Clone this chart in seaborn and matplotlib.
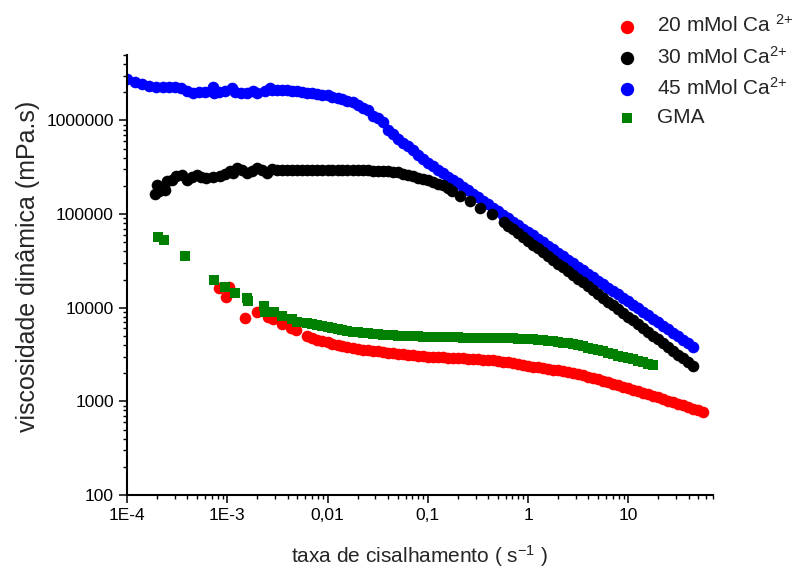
import matplotlib
matplotlib.use("Agg")
import numpy as np
import pandas as pd
import matplotlib.pyplot as plt
import seaborn as sns
from matplotlib.ticker import FixedLocator, FixedFormatter, LogLocator, NullFormatter

# ---------------- data ----------------
rate_grid = [
    0.00316, 0.00355, 0.00398, 0.00447, 0.00501, 0.00562, 0.00631, 0.00708, 0.00794, 0.00891,
    0.0100, 0.0112, 0.0126, 0.0141, 0.0158, 0.0178, 0.0200, 0.0224, 0.0251, 0.0282,
    0.0316, 0.0355, 0.0398, 0.0447, 0.0501, 0.0562, 0.0631, 0.0708, 0.0794, 0.0891,
    0.100, 0.112, 0.126, 0.141, 0.158, 0.178, 0.200, 0.224, 0.251, 0.282,
    0.316, 0.355, 0.398, 0.447, 0.501, 0.562, 0.631, 0.708, 0.794, 0.891,
    1.00, 1.12, 1.26, 1.41, 1.58, 1.78, 2.00, 2.24, 2.51, 2.82,
    3.16, 3.55, 3.98, 4.47, 5.01, 5.62, 6.31, 7.08, 7.94, 8.91,
    10.0, 11.2, 12.6, 14.1, 15.8, 17.8, 20.0, 22.4, 25.1, 28.2,
    31.6, 35.5, 39.8, 44.7, 50.1, 56.2,
]

# 45 mMol Ca2+ (blue)
ca45_rate_early = [1.00e-4, 1.20e-4, 1.41e-4, 1.66e-4, 1.95e-4, 2.29e-4, 2.63e-4, 3.02e-4, 3.47e-4,
                   3.98e-4, 4.57e-4, 5.25e-4, 6.03e-4, 6.92e-4, 7.24e-4, 7.41e-4, 8.32e-4, 9.55e-4,
                   1.12e-3, 1.20e-3, 1.38e-3, 1.58e-3, 1.82e-3, 2.00e-3, 2.40e-3, 2.69e-3, 2.82e-3]
ca45_visc_early = [2.75e6, 2.55e6, 2.45e6, 2.35e6, 2.30e6, 2.28e6, 2.30e6, 2.25e6, 2.22e6,
                   2.05e6, 1.98e6, 2.00e6, 2.03e6, 2.08e6, 2.25e6, 1.95e6, 2.00e6, 2.05e6,
                   2.20e6, 2.00e6, 1.97e6, 1.98e6, 2.05e6, 1.95e6, 2.05e6, 2.20e6, 2.10e6]
ca45_visc_grid = [2.11e6, 2.10e6, 2.12e6, 2.08e6, 2.04e6, 1.99e6, 1.97e6, 1.95e6, 1.92e6, 1.88e6,
                  1.85e6, 1.79e6, 1.74e6, 1.69e6, 1.63e6, 1.57e6, 1.48e6, 1.36e6, 1.30e6, 1.12e6,
                  1.05e6, 9.6e5, 8.0e5, 7.2e5, 6.4e5, 5.8e5, 5.3e5, 4.85e5, 4.25e5,
                  3.86e5, 3.55e5, 3.26e5, 2.99e5, 2.75e5, 2.52e5, 2.32e5, 2.13e5, 1.95e5, 1.79e5,
                  1.64e5, 1.51e5, 1.39e5, 1.27e5, 1.17e5, 1.07e5, 9.86e4, 9.06e4, 8.32e4, 7.64e4,
                  7.01e4, 6.44e4, 5.92e4, 5.43e4, 4.99e4, 4.58e4, 4.20e4, 3.85e4, 3.54e4, 3.25e4,
                  2.99e4, 2.74e4, 2.52e4, 2.31e4, 2.12e4, 1.95e4, 1.79e4, 1.64e4, 1.51e4, 1.39e4,
                  1.27e4, 1.17e4, 1.07e4, 9.86e3, 9.04e3, 8.30e3, 7.62e3, 7.00e3, 6.43e3, 5.90e3,
                  5.42e3, 4.98e3, 4.57e3, 4.20e3, 3.85e3]

# 30 mMol Ca2+ (black)
ca30_rate_early = [1.90e-4, 1.98e-4, 2.10e-4, 2.40e-4, 2.50e-4, 2.80e-4, 3.10e-4, 3.50e-4, 3.94e-4,
                   4.40e-4, 4.95e-4, 5.50e-4, 6.20e-4, 7.20e-4, 8.50e-4, 9.50e-4, 1.07e-3, 1.15e-3,
                   1.25e-3, 1.40e-3, 1.57e-3, 1.75e-3, 1.97e-3, 2.20e-3, 2.50e-3, 2.80e-3]
ca30_visc_early = [1.62e5, 2.07e5, 1.75e5, 1.83e5, 2.24e5, 2.30e5, 2.54e5, 2.60e5, 2.34e5,
                   2.50e5, 2.64e5, 2.50e5, 2.44e5, 2.50e5, 2.54e5, 2.70e5, 2.87e5, 2.75e5,
                   3.12e5, 2.95e5, 2.76e5, 2.90e5, 3.10e5, 2.95e5, 2.76e5, 3.05e5]
ca30_visc_plateau = [2.99e5, 2.94e5, 2.95e5, 2.96e5, 2.96e5, 2.97e5, 2.98e5, 2.99e5, 2.99e5, 2.99e5,
                     2.99e5, 2.99e5, 2.99e5, 2.98e5, 2.97e5, 2.96e5, 2.95e5, 2.94e5, 2.94e5, 2.92e5,
                     2.91e5, 2.89e5, 2.86e5, 2.83e5, 2.79e5, 2.70e5, 2.62e5, 2.54e5, 2.45e5, 2.38e5,
                     2.30e5, 2.21e5, 2.12e5, 2.02e5, 1.88e5]
ca30_rate_mid = [0.174, 0.210, 0.265, 0.333, 0.437, 0.570]
ca30_visc_mid = [1.75e5, 1.55e5, 1.37e5, 1.16e5, 1.01e5, 8.17e4]
ca30_visc_tail = [7.52e4, 6.85e4, 6.24e4, 5.69e4, 5.18e4, 4.72e4, 4.30e4, 3.92e4, 3.56e4, 3.25e4,
                  2.96e4, 2.70e4, 2.45e4, 2.24e4, 2.04e4, 1.86e4, 1.69e4, 1.54e4, 1.40e4, 1.28e4,
                  1.16e4, 1.06e4, 9.66e3, 8.81e3, 8.02e3, 7.31e3, 6.65e3, 6.07e3, 5.52e3, 5.04e3,
                  4.58e3, 4.18e3, 3.80e3, 3.47e3, 3.16e3, 2.88e3, 2.62e3, 2.39e3]

# 20 mMol Ca2+ (red)
ca20_rate_early = [8.2e-4, 9.7e-4, 1.05e-3, 1.49e-3, 2.0e-3, 2.54e-3, 2.85e-3, 3.5e-3, 4.3e-3, 4.9e-3]
ca20_visc_early = [16300, 12900, 16700, 7770, 9100, 7950, 7570, 6750, 6070, 5830]
ca20_visc_grid = [5012, 4786, 4571, 4406, 4266, 4093, 3981, 3873, 3784, 3707,
                  3639, 3573, 3516, 3459, 3412, 3365, 3319, 3273, 3228, 3192,
                  3155, 3119, 3083, 3048,
                  3006, 2992, 2979, 2958, 2938, 2917, 2897, 2877, 2858, 2838,
                  2818, 2799, 2780, 2754, 2710, 2661, 2612, 2564, 2512, 2460, 2410,
                  2355, 2317, 2275, 2234, 2188, 2143, 2094, 2046, 1995, 1945,
                  1892, 1837, 1782, 1726, 1663, 1603, 1545, 1486, 1432, 1380,
                  1327, 1279, 1233, 1189, 1143, 1102, 1062, 1021, 982, 944,
                  908, 871, 838, 807, 778]

# GMA (green squares)
gma_rate_early = [2.05e-4, 2.34e-4, 3.79e-4, 7.3e-4, 9.6e-4, 1.19e-3, 1.57e-3, 1.62e-3,
                  2.3e-3, 2.4e-3, 2.9e-3, 3.5e-3, 4.4e-3, 4.95e-3]
gma_visc_early = [57000, 53300, 36000, 19900, 16500, 14400, 12700, 11700,
                  10500, 8900, 8900, 8200, 7570, 6970]
gma_visc_grid = [6823, 6637, 6471, 6310, 6166, 6026, 5902, 5781, 5662, 5559,
                 5470, 5395, 5321, 5260, 5200, 5152, 5105, 5070, 5035, 5000,
                 4977, 4955, 4932, 4909,
                 4887, 4875, 4864, 4853, 4842, 4831, 4819, 4808, 4797, 4786,
                 4775, 4764, 4753, 4742, 4732, 4721, 4710, 4699, 4677, 4656,
                 4634, 4613, 4571, 4519, 4457, 4385, 4315, 4236, 4159, 4064,
                 3963, 3864, 3758, 3648, 3540, 3428, 3311, 3192, 3076, 2979,
                 2891, 2805, 2710, 2618, 2529, 2449]

series_labels = ['20 mMol Ca $^{2{+}}$', '30 mMol Ca$^{2{+}}$', '45 mMol Ca$^{2{+}}$', 'GMA']
x_major_ticks = [1e-4, 1e-3, 1e-2, 1e-1, 1, 10]
x_tick_labels = ['1E-4', '1E-3', '0,01', '0,1', '1', '10']
y_major_ticks = [100, 1000, 10000, 100000, 1000000]
y_tick_labels = ['100', '1000', '10000', '100000', '1000000']

# ---------------- assemble series ----------------
ca45 = pd.DataFrame({'rate': ca45_rate_early + rate_grid[0:84],
                     'visc': ca45_visc_early + ca45_visc_grid})
ca30 = pd.DataFrame({'rate': ca30_rate_early + rate_grid[0:35] + ca30_rate_mid + rate_grid[46:84],
                     'visc': ca30_visc_early + ca30_visc_plateau + ca30_visc_mid + ca30_visc_tail})
ca20 = pd.DataFrame({'rate': ca20_rate_early + rate_grid[6:86],
                     'visc': ca20_visc_early + ca20_visc_grid})
gma = pd.DataFrame({'rate': gma_rate_early + rate_grid[6:76],
                    'visc': gma_visc_early + gma_visc_grid})

# ---------------- plot ----------------
sns.set_theme(style="ticks")
plt.rcParams['font.family'] = ['Liberation Sans', 'DejaVu Sans']
plt.rcParams['mathtext.default'] = 'regular'

fig = plt.figure(figsize=(7.95, 5.68), dpi=100)
ax = fig.add_axes([127 / 795, 73 / 568, 586 / 795, 440 / 568])

sns.scatterplot(data=ca45, x='rate', y='visc', color='#0000ff', marker='o', s=70,
                linewidth=0, ax=ax, label=series_labels[2], zorder=2)
sns.scatterplot(data=ca30, x='rate', y='visc', color='#000000', marker='o', s=70,
                linewidth=0, ax=ax, label=series_labels[1], zorder=3)
sns.scatterplot(data=ca20, x='rate', y='visc', color='#ff0000', marker='o', s=70,
                linewidth=0, ax=ax, label=series_labels[0], zorder=4)
sns.scatterplot(data=gma, x='rate', y='visc', color='#008000', marker='s', s=42,
                linewidth=0, ax=ax, label=series_labels[3], zorder=5)

ax.set_xscale('log')
ax.set_yscale('log')
ax.set_xlim(1e-4, 70)
ax.set_ylim(100, 5e6)

ax.xaxis.set_major_locator(FixedLocator(x_major_ticks))
ax.xaxis.set_major_formatter(FixedFormatter(x_tick_labels))
ax.yaxis.set_major_locator(FixedLocator(y_major_ticks))
ax.yaxis.set_major_formatter(FixedFormatter(y_tick_labels))
ax.xaxis.set_minor_locator(LogLocator(base=10, subs=np.arange(2, 10), numticks=20))
ax.yaxis.set_minor_locator(LogLocator(base=10, subs=np.arange(2, 10), numticks=20))
ax.xaxis.set_minor_formatter(NullFormatter())
ax.yaxis.set_minor_formatter(NullFormatter())

ax.tick_params(which='major', direction='out', length=5.5, width=1.1, labelsize=12.5,
               color='black', labelcolor='black', pad=4)
ax.tick_params(which='minor', direction='out', length=3, width=1.0, color='black')
for side in ['top', 'right']:
    ax.spines[side].set_visible(False)
for side in ['left', 'bottom']:
    ax.spines[side].set_linewidth(1.5)
    ax.spines[side].set_color('black')

ax.set_xlabel('taxa de cisalhamento ( s$^{-1}$ )', fontsize=15, labelpad=14)
ax.set_ylabel('viscosidade dinâmica (mPa.s)', fontsize=18)
ax.yaxis.set_label_coords(-0.1485, 0.52)

handles, labels = ax.get_legend_handles_labels()
order = [labels.index(l) for l in series_labels]
ax.get_legend().remove()
fig.legend([handles[i] for i in order], [labels[i] for i in order],
           loc='upper left', bbox_to_anchor=(0.748, 1.004), frameon=False,
           fontsize=15, handlelength=1.5, handletextpad=0.7, labelspacing=0.45,
           markerscale=1.15, borderpad=0.3)

fig.savefig('out.png', dpi=100)
